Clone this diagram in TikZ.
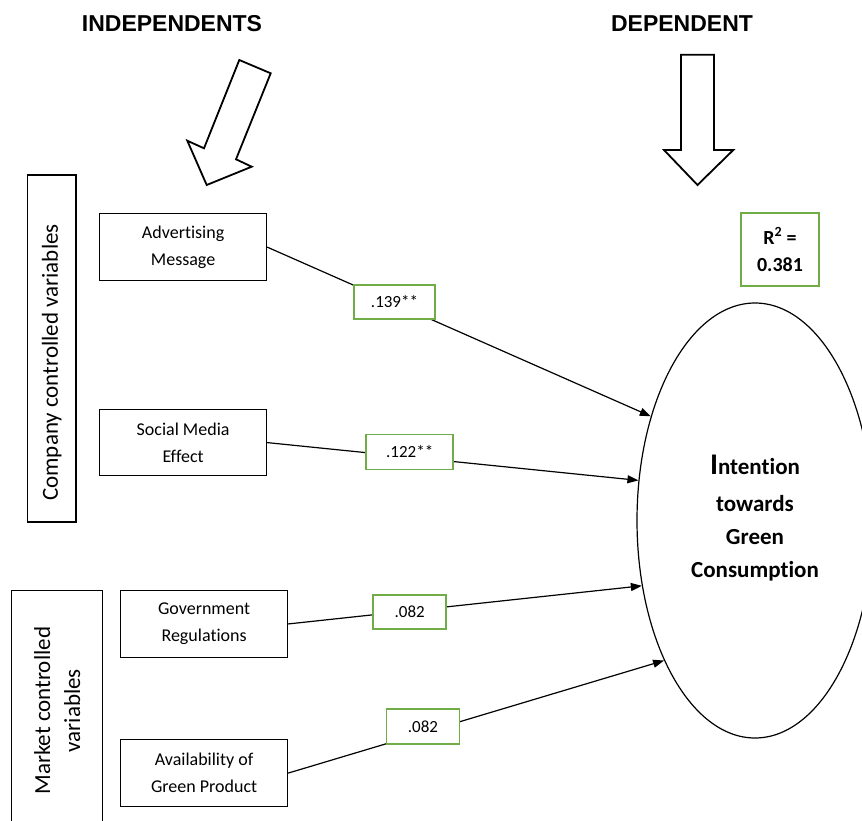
\documentclass[tikz,border=0pt]{standalone}
\usepackage{fontspec}
\setmainfont[Ligatures={NoCommon,NoRare}]{Carlito}
\newfontfamily\hdrfont{Liberation Sans}
\usetikzlibrary{shapes.geometric,arrows.meta}
\definecolor{lblgreen}{HTML}{70AD47}
\begin{document}
\begin{tikzpicture}[x=1pt,y=-1pt,
  varbox/.style={draw, line width=1.2pt, inner sep=0pt, align=center,
    font=\fontsize{18}{27}\selectfont},
  grpbox/.style={draw, line width=1.2pt, inner sep=0pt, align=center, rotate=90,
    font=\fontsize{23}{30}\selectfont},
  coef/.style={draw=lblgreen, line width=1.5pt, fill=white, inner sep=0pt,
    font=\fontsize{17}{20}\selectfont},
  hdr/.style={font=\hdrfont\bfseries\fontsize{23}{28}\selectfont, inner sep=0pt},
  blockarrow/.style={draw, line width=1.8pt, line join=miter},
  link/.style={line width=1.2pt, -{Triangle[length=11pt,width=8pt]}}]
\useasboundingbox (0,0) rectangle (862,821);
\clip (0,0) rectangle (862,821);

% headers
\node[hdr] (indep) at (172,24) {INDEPENDENTS};
\node[hdr] (dep) at (682,24) {DEPENDENT};

% block arrows
\draw[blockarrow] (239.3,60) -- (270.7,73.3) -- (236,159.3) -- (251.7,166.7)
  -- (206.7,185) -- (187.3,140.7) -- (204,148.3) -- cycle;
\draw[blockarrow] (681,54.7) -- (714,54.7) -- (714,150) -- (733.3,150)
  -- (697.5,185) -- (664,150) -- (681,150) -- cycle;

% group boxes
\node[grpbox, minimum width=347pt, minimum height=48.7pt] (comp) at (51.7,348.5)
  {Company controlled variables\hspace*{28pt}};
\node[grpbox, minimum width=240pt, minimum height=91pt] (mkt) at (57.2,710.7)
  {Market controlled\\variables};

% variable boxes
\node[varbox, minimum width=167pt, minimum height=67pt, anchor=north west] (adv) at (99,213) {Advertising\\Message};
\node[varbox, minimum width=167pt, minimum height=66pt, anchor=north west] (soc) at (99,409) {Social Media\\Effect};
\node[varbox, minimum width=167pt, minimum height=66.7pt, anchor=north west] (gov) at (120,590) {Government\\Regulations};
\node[varbox, minimum width=167pt, minimum height=67pt, anchor=north west] (avail) at (120,739) {Availability of\\Green Product};

% dependent
\node[draw, ellipse, line width=1.2pt, minimum width=236pt, minimum height=435pt, inner sep=0pt,
  align=center, font=\bfseries\fontsize{23}{33}\selectfont] (dv) at (755,520.5)
  {{\fontsize{30}{30}\selectfont I}ntention\\[4pt]towards\\Green\\Consumption\\[-24pt]};

% R squared
\node[draw=lblgreen, line width=1.5pt, minimum width=78pt, minimum height=73pt, inner sep=0pt,
  align=center, font=\bfseries\fontsize{20}{27}\selectfont] (rsq) at (780,249.5) {R\textsuperscript{2} =\\0.381};

% links
\draw[link] (adv.east) -- (dv.135.8);
\draw[link] (soc.east) -- (dv.161.3);
\draw[link] (gov.east) -- (dv.210.8);
\draw[link] (avail.east) -- (dv.237.8);

% coefficients
\node[coef, minimum width=81pt, minimum height=34pt] (c1) at (394.5,302) {.139**};
\node[coef, minimum width=87pt, minimum height=35pt] (c2) at (409.7,451.8) {.122**};
\node[coef, minimum width=73pt, minimum height=34pt] (c3) at (409.7,612.2) {.082};
\node[coef, minimum width=73pt, minimum height=35pt] (c4) at (423,726.5) {.082};
\end{tikzpicture}
\end{document}
